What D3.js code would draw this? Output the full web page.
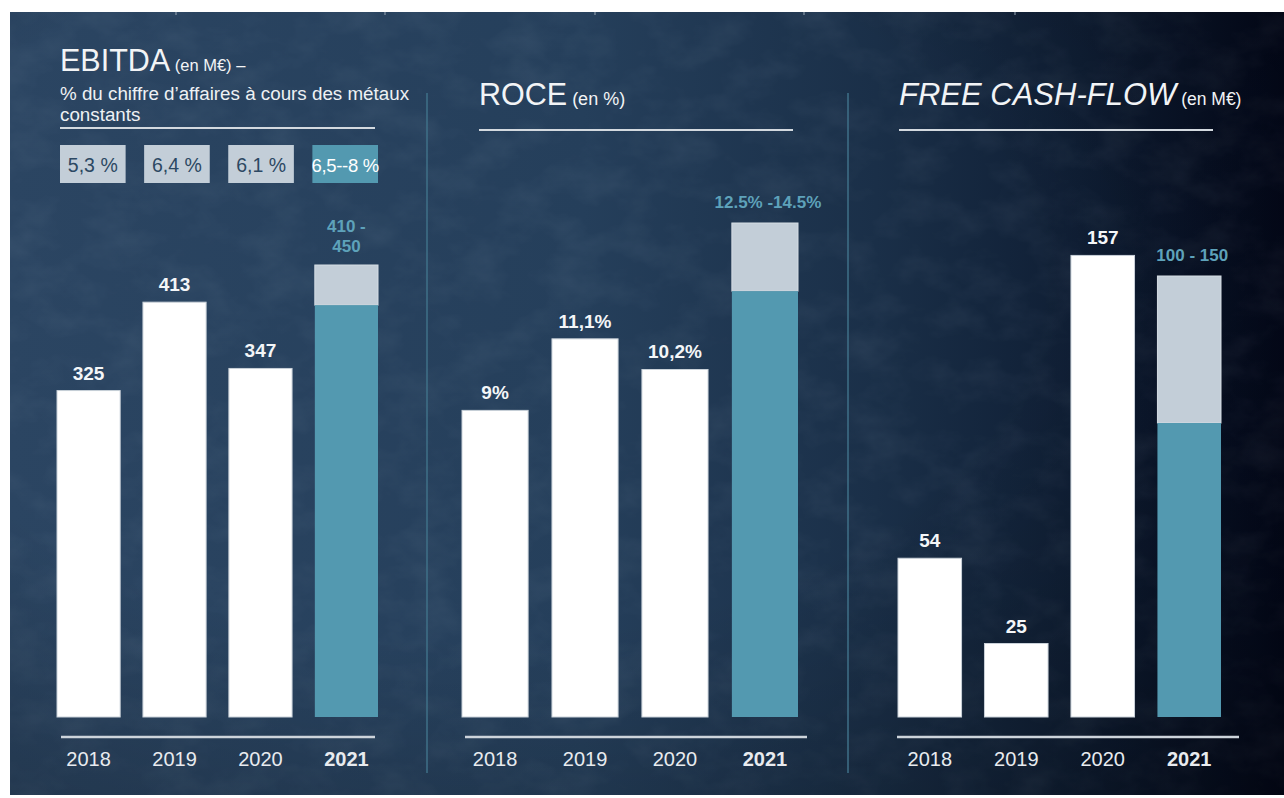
<!DOCTYPE html>
<html>
<head>
<meta charset="utf-8">
<script src="https://cdn.jsdelivr.net/npm/d3@7.9.0/dist/d3.min.js"></script>
<style>
  html, body { margin: 0; padding: 0; background: #ffffff; }
  svg { display: block; font-family: Arial, "Liberation Sans", sans-serif; }
</style>
</head>
<body>
<script>
// data
const years = ["2018", "2019", "2020", "2021"];

const ebitdaValues = [325, 413, 347];
const ebitdaRange = [410, 450];
const ebitdaMargins = ["5,3 %", "6,4 %", "6,1 %", "6,5--8 %"];

const roceValues = [9, 11.1, 10.2];
const roceRange = [12.5, 14.5];

const fcfValues = [54, 25, 157];
const fcfRange = [100, 150];

const W = 1284, H = 798;
const baseY = 717;
const teal = "#5399b0";
const pale = "#c3ced8";
const tealText = "#5ea2ba";

const svg = d3.select("body").append("svg").attr("width", W).attr("height", H);
const defs = svg.append("defs");

// background gradient + mottled texture
const grad = defs.append("linearGradient").attr("id", "bg").attr("x1", 0).attr("x2", 1).attr("y1", 0).attr("y2", 0);
[[0, "#2b4562"], [0.45, "#253f5b"], [0.68, "#1a2f48"], [0.84, "#0f1e34"], [1, "#03081a"]]
  .forEach(([o, c]) => grad.append("stop").attr("offset", o).attr("stop-color", c));

const vign = defs.append("radialGradient").attr("id", "vign")
  .attr("cx", 0.35).attr("cy", 0.35).attr("r", 0.9);
vign.append("stop").attr("offset", 0.5).attr("stop-color", "#000").attr("stop-opacity", 0);
vign.append("stop").attr("offset", 1).attr("stop-color", "#000").attr("stop-opacity", 0.3);

const noise = defs.append("filter").attr("id", "noise").attr("x", 0).attr("y", 0).attr("width", 1).attr("height", 1);
noise.append("feTurbulence").attr("type", "fractalNoise").attr("baseFrequency", "0.02 0.03")
  .attr("numOctaves", 4).attr("seed", 7);
noise.append("feColorMatrix").attr("type", "matrix")
  .attr("values", "0 0 0 0 0.7  0 0 0 0 0.8  0 0 0 0 0.9  0.3 0 0 0 -0.12");

svg.append("rect").attr("width", W).attr("height", H).attr("fill", "#fff");
svg.append("rect").attr("x", 10).attr("y", 12).attr("width", W - 10).attr("height", 783).attr("fill", "url(#bg)");
svg.append("rect").attr("x", 10).attr("y", 12).attr("width", W - 10).attr("height", 783)
  .attr("filter", "url(#noise)").attr("opacity", 0.4);
svg.append("rect").attr("x", 10).attr("y", 12).attr("width", W - 10).attr("height", 783).attr("fill", "url(#vign)");

// little slide marks along the top edge
[176, 385, 595, 804, 1015].forEach(x => {
  svg.append("line").attr("x1", x).attr("x2", x).attr("y1", 12).attr("y2", 15)
    .attr("stroke", "#9aa8b6").attr("stroke-width", 1);
});

// vertical separators
[427, 848].forEach(x => {
  svg.append("line").attr("x1", x).attr("x2", x).attr("y1", 93).attr("y2", 773)
    .attr("stroke", "#3f7089").attr("stroke-width", 1.5);
});

// titles
const title1 = svg.append("text").attr("x", 60).attr("y", 71).attr("fill", "#f2f4f6");
title1.append("tspan").attr("font-size", 30.5).text("EBITDA");
title1.append("tspan").attr("font-size", 16.5).text(" (en M€) –");
svg.append("text").attr("x", 60).attr("y", 100).attr("font-size", 18.8).attr("fill", "#eef1f4")
  .text("% du chiffre d’affaires à cours des métaux");
svg.append("text").attr("x", 60).attr("y", 121).attr("font-size", 18.8).attr("fill", "#eef1f4")
  .text("constants");

const title2 = svg.append("text").attr("x", 479).attr("y", 105).attr("fill", "#f2f4f6");
title2.append("tspan").attr("font-size", 30.5).text("ROCE");
title2.append("tspan").attr("font-size", 18).text(" (en %)");

const title3 = svg.append("text").attr("x", 899).attr("y", 105).attr("fill", "#f2f4f6");
title3.append("tspan").attr("font-size", 31).attr("font-style", "italic").text("FREE CASH-FLOW");
title3.append("tspan").attr("font-size", 17.5).text(" (en M€)");

[[60, 375, 128], [479, 793, 130], [899, 1213, 130]].forEach(([a, b, y]) => {
  svg.append("line").attr("x1", a).attr("x2", b).attr("y1", y).attr("y2", y)
    .attr("stroke", "#d3d9df").attr("stroke-width", 2);
});

// EBITDA margin boxes
const xBox = d3.scaleBand().domain(years).range([60, 378]).paddingInner(0.22);
const boxes = svg.append("g");
boxes.selectAll("rect").data(ebitdaMargins).join("rect")
  .attr("x", (d, i) => xBox(years[i]))
  .attr("y", 145)
  .attr("width", xBox.bandwidth())
  .attr("height", 38)
  .attr("fill", (d, i) => i === 3 ? teal : pale);
boxes.selectAll("text").data(ebitdaMargins).join("text")
  .attr("x", (d, i) => xBox(years[i]) + xBox.bandwidth() / 2)
  .attr("y", 172)
  .attr("text-anchor", "middle")
  .attr("font-size", (d, i) => i === 3 ? 18.5 : 19.5)
  .attr("letter-spacing", (d, i) => i === 3 ? -0.3 : 0)
  .attr("fill", (d, i) => i === 3 ? "#ffffff" : "#2c4863")
  .text(d => d);

// panels
const comma = v => String(v).replace(".", ",");
const panels = [
  { values: ebitdaValues, range: ebitdaRange, xr: [57, 378], axis: [61, 375], top: 265,
    label: v => comma(v), rangeLabel: r => [`${r[0]} -`, `${r[1]}`] },
  { values: roceValues, range: roceRange, xr: [462, 798], axis: [465, 807], top: 223,
    label: v => comma(v) + "%", rangeLabel: r => [`${r[0]}% -${r[1]}%`] },
  { values: fcfValues, range: fcfRange, xr: [898, 1221], axis: [897, 1239], top: 276,
    label: v => String(v), rangeLabel: r => [`${r[0]} - ${r[1]}`] }
];

panels.forEach(p => {
  const g = svg.append("g");
  const x = d3.scaleBand().domain(years).range(p.xr).paddingInner(0.265).paddingOuter(0);
  const y = d3.scaleLinear().domain([0, p.range[1]]).range([baseY, p.top]);
  const past = years.slice(0, 3);

  g.selectAll("rect.bar").data(p.values).join("rect")
    .attr("class", "bar")
    .attr("x", (d, i) => x(past[i]))
    .attr("y", d => y(d))
    .attr("width", x.bandwidth())
    .attr("height", d => baseY - y(d))
    .attr("fill", "#ffffff")
    .attr("stroke", "#c9d1d9").attr("stroke-width", 1);

  g.selectAll("text.val").data(p.values).join("text")
    .attr("class", "val")
    .attr("x", (d, i) => x(past[i]) + x.bandwidth() / 2)
    .attr("y", d => y(d) - 11)
    .attr("text-anchor", "middle")
    .attr("font-size", 19).attr("font-weight", "bold")
    .attr("fill", "#f4f6f8")
    .text(d => p.label(d));

  // forecast range bar: low part teal, upper part pale
  const fx = x("2021");
  g.append("rect").attr("x", fx).attr("width", x.bandwidth())
    .attr("y", y(p.range[1])).attr("height", y(p.range[0]) - y(p.range[1]))
    .attr("fill", pale).attr("stroke", "#d5dde4").attr("stroke-width", 1);
  g.append("rect").attr("x", fx).attr("width", x.bandwidth())
    .attr("y", y(p.range[0])).attr("height", baseY - y(p.range[0]))
    .attr("fill", teal);

  const lines = p.rangeLabel(p.range);
  g.selectAll("text.rng").data(lines).join("text")
    .attr("class", "rng")
    .attr("x", fx + x.bandwidth() / 2 + (lines.length === 1 ? 3 : 0))
    .attr("y", (d, i) => y(p.range[1]) - 13 - (lines.length - 1 - i) * 20 - (lines.length === 1 ? 2 : 0))
    .attr("text-anchor", "middle")
    .attr("font-size", 17).attr("font-weight", "bold")
    .attr("fill", tealText)
    .text(d => d);

  // baseline rule and year axis
  g.append("line").attr("x1", p.axis[0]).attr("x2", p.axis[1]).attr("y1", 737).attr("y2", 737)
    .attr("stroke", "#cdd4db").attr("stroke-width", 2.5);
  const ax = g.append("g").attr("transform", "translate(0,737)")
    .call(d3.axisBottom(x).tickSize(0).tickPadding(0));
  ax.select(".domain").remove();
  ax.selectAll("text")
    .attr("y", 29).attr("dy", 0)
    .attr("font-size", 20)
    .attr("font-family", "Arial, 'Liberation Sans', sans-serif")
    .attr("fill", "#e8ebef")
    .attr("font-weight", d => d === "2021" ? "bold" : "normal");
});
</script>
</body>
</html>
